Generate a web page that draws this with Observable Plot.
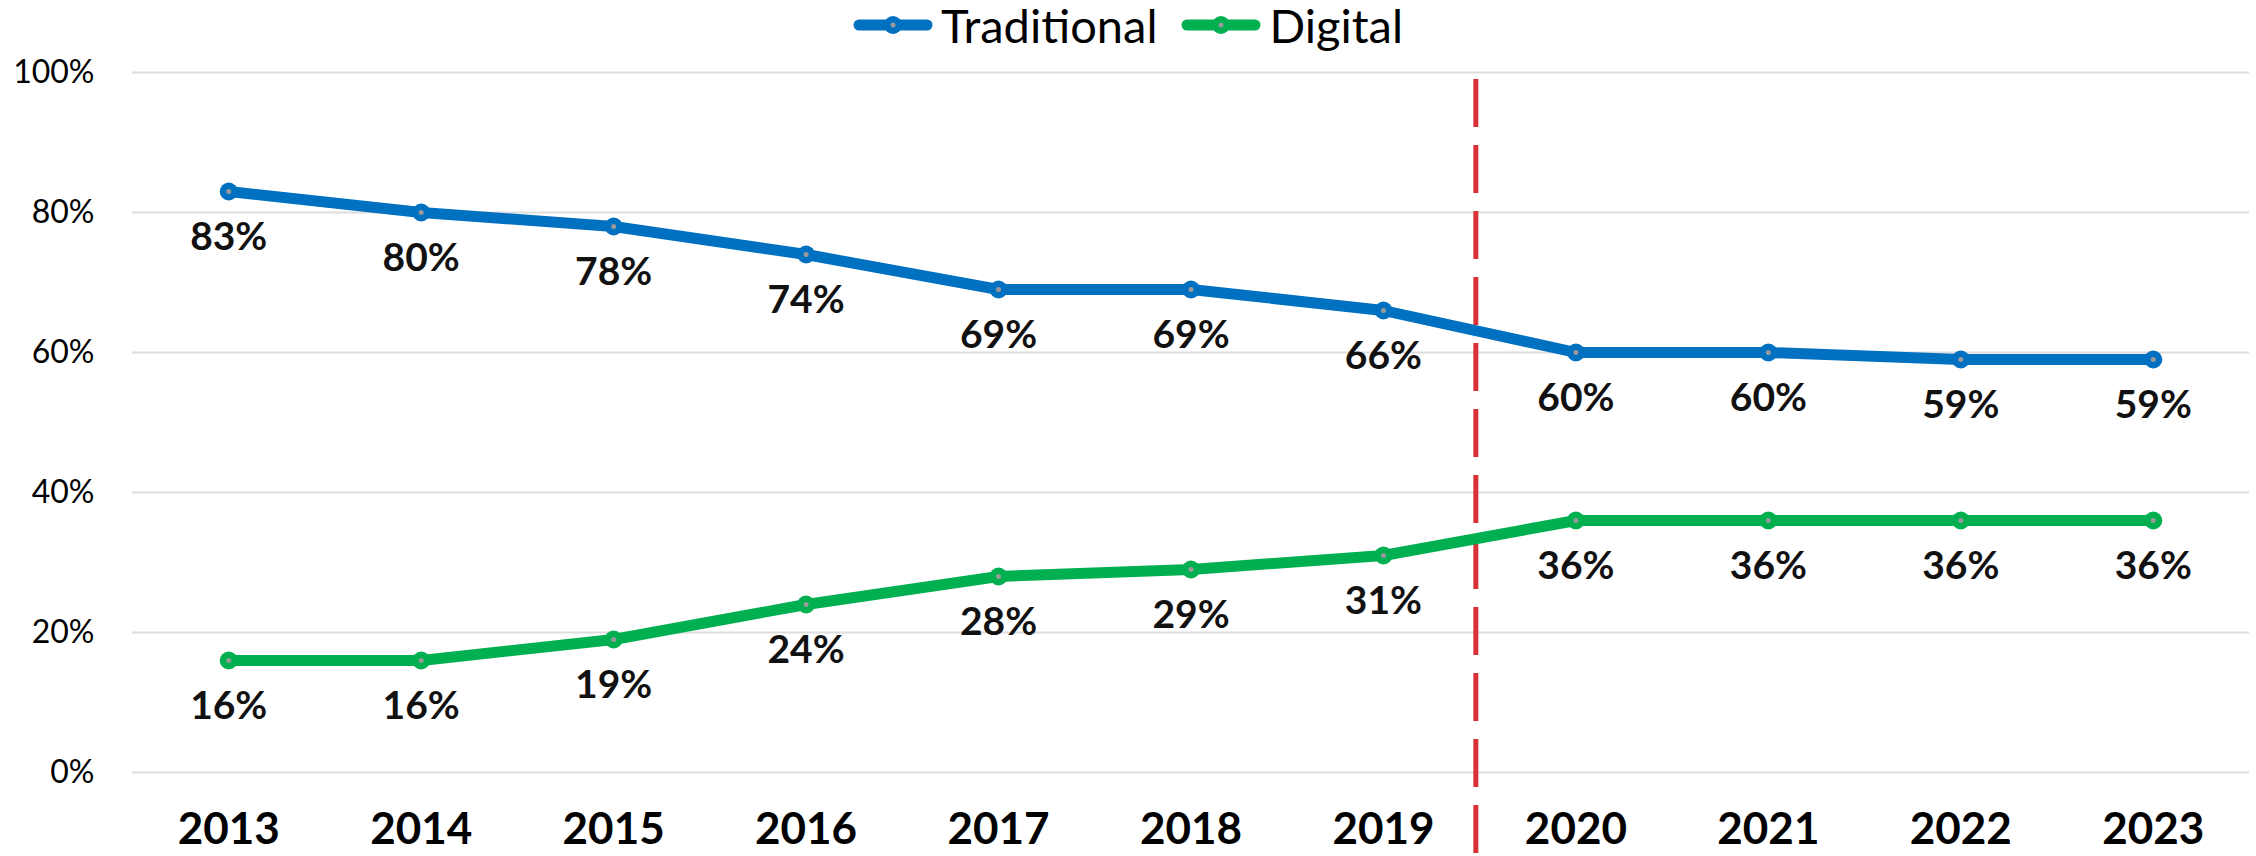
<!DOCTYPE html>
<html><head><meta charset="utf-8">
<script src="https://cdn.jsdelivr.net/npm/d3@7"></script>
<script src="https://cdn.jsdelivr.net/npm/@observablehq/plot@0.6"></script>
<style>
body{margin:0;background:#fff;font-family:Lato,sans-serif;}
#legend{height:50px;display:flex;justify-content:center;align-items:center;gap:24px;font-size:47px;color:#000;}
.item{display:flex;align-items:center;gap:8px;}
</style></head><body>
<div id="legend"></div><div id="chart"></div>
<script>
const years=[2013,2014,2015,2016,2017,2018,2019,2020,2021,2022,2023];
const traditional=[83,80,78,74,69,69,66,60,60,59,59];
const digital=[16,16,19,24,28,29,31,36,36,36,36];
const seriesNames=["Traditional","Digital"];
const seriesColors=["#0070C0","#00B050"];
const yTicks=[0,20,40,60,80,100];
const dividerYear=2019.48;
const dividerSpan=[99,-12];

const data=[];
years.forEach((y,i)=>{data.push({year:y,series:"Traditional",value:traditional[i]});});
years.forEach((y,i)=>{data.push({year:y,series:"Digital",value:digital[i]});});

const legend=document.getElementById("legend");
seriesNames.forEach((n,i)=>{
  const it=document.createElement("div");it.className="item";
  it.innerHTML=`<svg width="80" height="24"><line x1="6" y1="12" x2="74" y2="12" stroke="${seriesColors[i]}" stroke-width="11" stroke-linecap="round"/><circle cx="40" cy="12" r="9" fill="${seriesColors[i]}"/><circle cx="40" cy="12" r="2.5" fill="#999"/></svg><span>${n}</span>`;
  legend.appendChild(it);
});

const chart=Plot.plot({
  width:2256,height:806,marginTop:22,marginBottom:84,marginLeft:132,marginRight:7,
  style:{fontFamily:"Lato, sans-serif",color:"#000",background:"#fff"},
  x:{domain:[2012.5,2023.5]},
  y:{domain:[0,100]},
  color:{domain:seriesNames,range:seriesColors},
  marks:[
    Plot.ruleY(yTicks,{stroke:"#DDDDDD",strokeWidth:2}),
    Plot.axisY({ticks:yTicks,tickSize:0,tickPadding:38,tickFormat:d=>d+"%",fontSize:32,label:null}),
    Plot.axisX({ticks:years,tickSize:0,tickPadding:40,tickFormat:d=>String(d),fontSize:44,fontWeight:"bold",label:null}),
    Plot.ruleX([dividerYear],{x:d=>d,y1:()=>dividerSpan[0],y2:()=>dividerSpan[1],stroke:"#D93338",strokeWidth:5,strokeDasharray:"48,18"}),
    Plot.line(data,{x:"year",y:"value",z:"series",stroke:"series",strokeWidth:11}),
    Plot.dot(data,{x:"year",y:"value",fill:"series",r:9}),
    Plot.dot(data,{x:"year",y:"value",fill:"#999",r:2.5}),
    Plot.text(data,{x:"year",y:"value",text:d=>d.value+"%",dy:46,fontSize:39,fontWeight:"bold",fill:"#111"})
  ]
});
document.getElementById("chart").appendChild(chart);
</script></body></html>
